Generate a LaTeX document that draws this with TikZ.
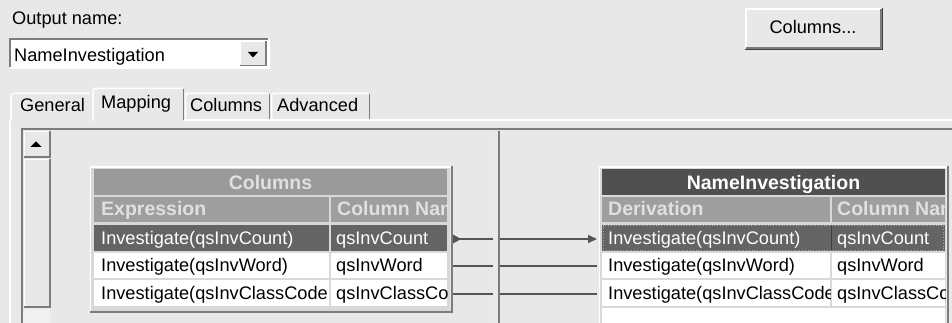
\documentclass[tikz,border=0pt]{standalone}
\usepackage{fontspec}
\setmainfont{Liberation Sans}
\usetikzlibrary{arrows.meta}
\definecolor{bg}{HTML}{E8E8E8}
\definecolor{grid}{HTML}{D8D8D8}
\definecolor{titleL}{HTML}{9A9A9A}
\definecolor{hdr}{HTML}{9E9E9E}
\definecolor{sel}{HTML}{646464}
\definecolor{titleR}{HTML}{505050}
\definecolor{hdrtxt}{HTML}{E0E0E0}
\definecolor{edge}{HTML}{7C7C7C}
\definecolor{darkedge}{HTML}{404040}
\definecolor{wire}{HTML}{555555}
\newcommand\uifont{\fontsize{18.2}{20}\selectfont}
\newcommand\uibold{\fontsize{19.5}{20}\selectfont\bfseries}
% name x1 y1 x2 y2 fill textx content
\newcommand\tcell[8]{%
  \fill[#6] (#2,#3) rectangle (#4,#5);
  \begin{scope}
    \clip (#2,#3) rectangle (#4,#5);
    \node[anchor=base west, inner sep=0pt] (#1) at (#7,{(#3+#5)/2+6.3}) {#8};
  \end{scope}}
\tikzset{
  hi/.style={white, line width=1.5pt},
  lo/.style={edge, line width=1.5pt},
  conn/.style={wire, line width=1.6pt},
  lbl/.style={anchor=base west, inner sep=0pt, font=\uifont}
}
\begin{document}
\begin{tikzpicture}[x=1pt,y=-1pt]
\useasboundingbox (0,0) rectangle (952,323);
\fill[bg] (0,0) rectangle (952,323);

% Output name + combo
\node[lbl] (outlbl) at (12,25) {Output name:};
\fill[white] (10,39) rectangle (268,67);
\draw[edge, line width=1.5pt] (10,67) -- (10,39) -- (268,39);
\draw[white, line width=1.5pt] (10,68) -- (269,68) -- (269,39);
\node[lbl] (combo) at (14,61.5) {NameInvestigation};
\fill[bg] (240,41) rectangle (266,66);
\draw[white, line width=1pt] (240.5,65) -- (240.5,41.5) -- (266,41.5);
\draw[edge, line width=1.5pt] (240,65.5) -- (266,65.5) -- (266,41);
\fill[black] (248,52) -- (258,52) -- (253,57.5) -- cycle;

% Columns... button
\fill[bg] (745,8) rectangle (882,48);
\draw[white, line width=1.5pt] (746,48) -- (746,9) -- (881,9);
\draw[edge, line width=1.5pt] (746,48) -- (881,48) -- (881,9);
\draw[darkedge, line width=0.8pt] (745,49.5) -- (882.5,49.5) -- (882.5,8);
\node[anchor=base, inner sep=0pt, font=\uifont] (colbtn) at (813,34) {Columns...};

% tab page frame
\draw[hi] (10,323) -- (10,120) -- (952,120);
% tabs
\fill[bg] (10,93) rectangle (92,121);
\draw[hi] (11,120) -- (11,95) -- (13,93.5) -- (90,93.5);
\node[lbl] (tgen) at (20,111.7) {General};
\fill[bg] (184,93) rectangle (270,119);
\draw[hi] (185.5,119) -- (185.5,95) -- (187,93.5) -- (268,93.5);
\draw[lo] (269.5,94) -- (269.5,119);
\node[lbl] (tcol) at (190,111.7) {Columns};
\fill[bg] (270,93) rectangle (370,119);
\draw[hi] (271.5,119) -- (271.5,95) -- (273,93.5) -- (368,93.5);
\draw[lo] (369.5,94) -- (369.5,119);
\node[lbl] (tadv) at (277,111.7) {Advanced};
\fill[bg] (92,88) rectangle (184,121);
\draw[hi] (93,121) -- (93,90) -- (95,88.5) -- (182,88.5);
\draw[lo] (183.5,89) -- (183.5,120);
\node[lbl] (tmap) at (101,108.3) {Mapping};

% inner canvas (sunken)
\draw[edge, line width=2pt] (22,323) -- (22,129.5) -- (952,129.5);

% scrollbar
\fill[bg] (23,131) rectangle (50,157);
\draw[white, line width=1pt] (24,157) -- (24,132) -- (50,132);
\draw[edge, line width=1.5pt] (23.5,157) -- (50,157) -- (50,131);
\fill[black] (30.5,147) -- (41.5,147) -- (36,141.5) -- cycle;
\fill[bg] (23,159) rectangle (50,307);
\draw[white, line width=1pt] (24,307) -- (24,160) -- (50,160);
\draw[edge, line width=1.5pt] (23.5,307) -- (50,307) -- (50,159);
\fill[black!6] (23,309) rectangle (50,323);

% divider
\draw[white!85!gray, line width=1pt] (494,131) -- (494,323);
\draw[edge, line width=1.5pt] (499,131) -- (499,323);

% ---------- left table ----------
\fill[grid] (91,167) rectangle (450,311);
\draw[white, line width=1.5pt] (90.5,312) -- (90.5,167) -- (451,167);
\draw[edge, line width=2pt] (90,312) -- (451.5,312) -- (451.5,166);
\fill[titleL] (94,169) rectangle (447,195);
\node[anchor=base, inner sep=0pt, font=\uibold, text=hdrtxt] (ltitle) at (270.5,189.5) {Columns};
\tcell{lh1}{94}{197}{329}{222}{hdr}{101}{\uibold\color{hdrtxt}Expression}
\tcell{lh2}{331}{197}{447}{222}{hdr}{337}{\uibold\color{hdrtxt}Column Name}
\tcell{la1}{94}{225}{329}{251}{sel}{101}{\uifont\color{white}Investigate(qsInvCount)}
\tcell{lb1}{331}{225}{447}{251}{sel}{336}{\uifont\color{white}qsInvCount}
\tcell{la2}{94}{253}{329}{278}{white}{101}{\uifont Investigate(qsInvWord)}
\tcell{lb2}{331}{253}{447}{278}{white}{336}{\uifont qsInvWord}
\tcell{la3}{94}{280}{328}{306}{white}{101}{\uifont Investigate(qsInvClassCode)}
\fill[white] (328,280) rectangle (329,306);
\tcell{lb3}{331}{280}{447}{306}{white}{336}{\uifont qsInvClassCode}

% ---------- right table ----------
\fill[grid] (600,167) rectangle (946,323);
\draw[white, line width=1.5pt] (599.5,323) -- (599.5,167) -- (947,167);
\draw[edge, line width=2pt] (947.5,166) -- (947.5,323);
\fill[titleR] (602,169) rectangle (945,195);
\node[anchor=base, inner sep=0pt, font=\uibold, text=white] (rtitle) at (773.5,189.5) {NameInvestigation};
\tcell{rh1}{602}{197}{830}{222}{hdr}{608}{\uibold\color{hdrtxt}Derivation}
\tcell{rh2}{832}{197}{945}{222}{hdr}{837}{\uibold\color{hdrtxt}Column Name}
\fill[sel] (602,225) rectangle (945,251);
\draw[darkedge, line width=1pt] (831,226) -- (831,250);
\tcell{ra1}{602}{225}{830}{251}{sel}{608}{\uifont\color{white}Investigate(qsInvCount)}
\tcell{rb1}{832}{225}{945}{251}{sel}{837}{\uifont\color{white}qsInvCount}
\draw[black!35, line width=0.8pt, dotted] (603,225.5) rectangle (943.5,250.5);
\tcell{ra2}{602}{253}{830}{278}{white}{608}{\uifont Investigate(qsInvWord)}
\tcell{rb2}{832}{253}{945}{278}{white}{837}{\uifont qsInvWord}
\tcell{ra3}{602}{280}{830}{306}{white}{608}{\uifont Investigate(qsInvClassCode)}
\tcell{rb3}{832}{280}{945}{306}{white}{837}{\uifont qsInvClassCode}
\fill[white] (602,308) rectangle (945,323);

% ---------- connectors ----------
\coordinate (lo1) at (453,239); \coordinate (dl1) at (493,239);
\coordinate (dr1) at (500,239); \coordinate (ri1) at (597,239);
\coordinate (lo2) at (453,266); \coordinate (dl2) at (493,266);
\coordinate (dr2) at (500,266); \coordinate (ri2) at (597,266);
\coordinate (lo3) at (453,294); \coordinate (dl3) at (493,294);
\coordinate (dr3) at (500,294); \coordinate (ri3) at (597,294);
\fill[wire] (453,234.5) -- (461,239) -- (453,243.5) -- cycle;
\draw[conn] (lo1) -- (dl1);
\draw[conn, -{Triangle[length=9pt,width=8pt]}] (dr1) -- (ri1);
\draw[conn] (lo2) -- (dl2);
\draw[conn] (dr2) -- (ri2);
\draw[conn] (lo3) -- (dl3);
\draw[conn] (dr3) -- (ri3);
\end{tikzpicture}
\end{document}
